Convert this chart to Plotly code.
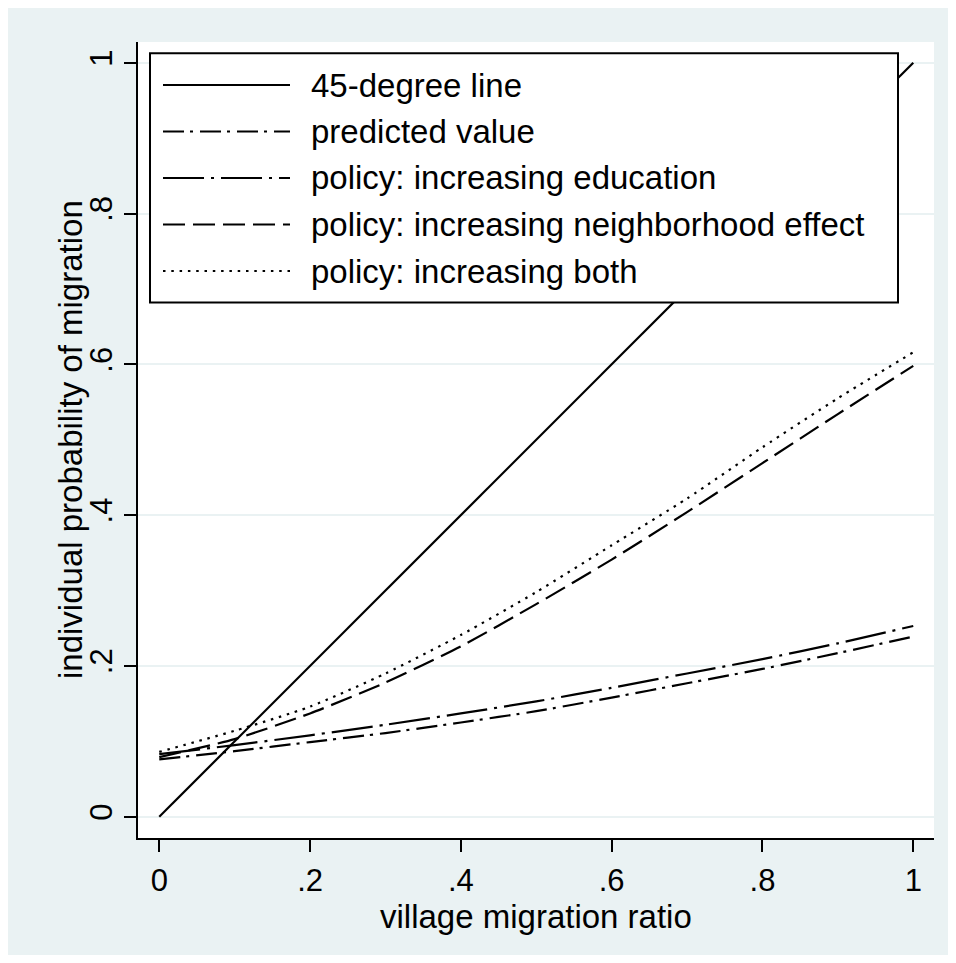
import plotly.graph_objects as go

# ---------------- data ----------------
ratio = [0.0, 0.1, 0.2, 0.3, 0.4, 0.5, 0.6, 0.7, 0.8, 0.9, 1.0]
diag_x = [0.0, 1.0]
diag_y = [0.0, 1.0]
predicted = [0.076, 0.087, 0.099, 0.111, 0.125, 0.140, 0.158, 0.177, 0.196, 0.217, 0.239]
educ = [0.083, 0.095, 0.108, 0.122, 0.137, 0.153, 0.171, 0.190, 0.209, 0.230, 0.253]
neigh = [0.079, 0.103, 0.137, 0.178, 0.226, 0.282, 0.341, 0.404, 0.469, 0.534, 0.598]
both = [0.086, 0.114, 0.146, 0.190, 0.241, 0.298, 0.360, 0.422, 0.490, 0.555, 0.616]

tick_vals = [0, 0.2, 0.4, 0.6, 0.8, 1]
tick_text = ["0", ".2", ".4", ".6", ".8", "1"]

names = ["45-degree line", "predicted value", "policy: increasing education",
         "policy: increasing neighborhood effect", "policy: increasing both"]

# ---------------- styles ----------------
BG = "#EAF2F3"
FONT = "Liberation Sans, Arial, Helvetica, sans-serif"
dashes = ["solid", "21px,6px,3px,7px", "41px,7px,3px,7px", "22px,8px", "2.5px,5.8px"]

W, H = 948, 947
ML, MT, PW, PH = 130, 34, 796, 796
MR, MB = W - ML - PW, H - MT - PH
OFF = 8  # body margin of the page


def px(X):
    return (X - OFF - ML) / PW


def py(Y):
    return 1 - (Y - OFF - MT) / PH


fig = go.Figure()
series = [(diag_x, diag_y), (ratio, predicted), (ratio, educ), (ratio, neigh), (ratio, both)]
for (xs, ys), nm, d in zip(series, names, dashes):
    fig.add_trace(go.Scatter(
        x=xs, y=ys, mode="lines", name=nm,
        line=dict(color="black", width=2.2, dash=d, shape="spline", smoothing=0.6),
        showlegend=False, hoverinfo="skip",
    ))

rng = [-0.0282, 1.0275]
axis_common = dict(
    range=rng, tickmode="array", tickvals=tick_vals, ticktext=tick_text,
    ticks="outside", ticklen=12, tickwidth=2, tickcolor="black",
    showline=True, linecolor="black", linewidth=2, mirror=False,
    zeroline=False, tickfont=dict(family=FONT, size=31, color="black"),
)

fig.update_xaxes(**axis_common, showgrid=False, ticklabelstandoff=2)
fig.update_yaxes(**axis_common, showgrid=True, gridcolor=BG, gridwidth=2,
                 tickangle=-90, ticklabelstandoff=0)

shapes = []
annotations = []
# legend box
shapes.append(dict(type="rect", xref="paper", yref="paper", layer="above",
                   x0=px(150), x1=px(898), y0=py(302.5), y1=py(53.3),
                   line=dict(color="black", width=2), fillcolor="white"))
item_y = [85, 131.5, 178, 224.5, 271]
for nm, d, yy in zip(names, dashes, item_y):
    shapes.append(dict(type="line", xref="paper", yref="paper", layer="above",
                       x0=px(163), x1=px(290), y0=py(yy), y1=py(yy),
                       line=dict(color="black", width=2, dash=d)))
    annotations.append(dict(text=nm, xref="paper", yref="paper", x=px(309), y=py(yy),
                            xanchor="left", yanchor="middle", showarrow=False,
                            font=dict(family=FONT, size=33, color="black")))

# axis titles
annotations.append(dict(text="village migration ratio", xref="paper", yref="paper",
                        x=0.5, y=py(916), xanchor="center", yanchor="middle",
                        showarrow=False, font=dict(family=FONT, size=33, color="black")))
annotations.append(dict(text="individual probability of migration", xref="paper", yref="paper",
                        x=px(70), y=0.5, xanchor="center", yanchor="middle", textangle=-90,
                        showarrow=False, font=dict(family=FONT, size=33, color="black")))

fig.update_layout(
    width=W, height=H,
    margin=dict(l=ML, r=MR, t=MT, b=MB, pad=0),
    paper_bgcolor=BG, plot_bgcolor="white",
    shapes=shapes, annotations=annotations,
    showlegend=False,
    font=dict(family=FONT, color="black"),
)

fig.write_html("out.html")
